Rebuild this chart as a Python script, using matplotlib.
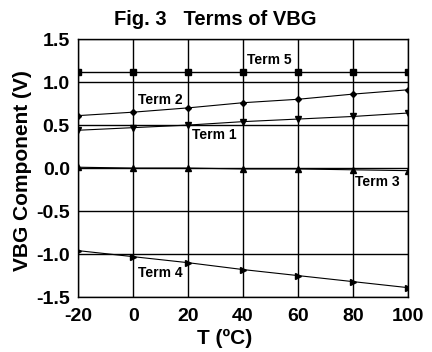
import numpy as np
import matplotlib
matplotlib.use('Agg')
import matplotlib.pyplot as plt

plt.rcParams['font.family'] = ['Liberation Sans', 'DejaVu Sans']
plt.rcParams['font.weight'] = 'bold'
plt.rcParams['axes.unicode_minus'] = False

# temperature points
T = [-20, 0, 20, 40, 60, 80, 100]

# terms of VBG
term1 = [0.44, 0.47, 0.50, 0.54, 0.57, 0.60, 0.64]
term2 = [0.61, 0.65, 0.70, 0.76, 0.80, 0.86, 0.91]
term3 = [0.01, 0.00, 0.00, -0.01, -0.01, -0.02, -0.03]
term4 = [-0.96, -1.03, -1.10, -1.18, -1.25, -1.32, -1.39]
term5 = [1.12, 1.12, 1.12, 1.12, 1.12, 1.12, 1.12]

fig = plt.figure(figsize=(4.32, 3.52), dpi=100)
ax = fig.add_axes([0.181, 0.156, 0.763, 0.733])

ax.plot(T, term5, 'k-', lw=1.0, marker='s', ms=4.5)
ax.plot(T, term2, 'k-', lw=0.8, marker='D', ms=3)
ax.plot(T, term1, 'k-', lw=0.8, marker='v', ms=4.5)
ax.plot(T, term3, 'k-', lw=0.8, marker='^', ms=4.5)
ax.plot(T, term4, 'k-', lw=0.8, marker='>', ms=4.5)

# curve labels
lab = dict(fontsize=10, fontweight='bold', va='center', ha='left')
ax.text(41.5, 1.26, 'Term 5', **lab)
ax.text(1.8, 0.79, 'Term 2', **lab)
ax.text(21.5, 0.38, 'Term 1', **lab)
ax.text(80.7, -0.16, 'Term 3', **lab)
ax.text(1.8, -1.22, 'Term 4', **lab)

ax.set_xlim(-20, 100)
ax.set_ylim(-1.5, 1.5)
ax.set_xticks(T)
ax.set_yticks([-1.5, -1.0, -0.5, 0.0, 0.5, 1.0, 1.5])
ax.set_yticklabels(['-1.5', '-1.0', '-0.5', '0.0', '0.5', '1.0', '1.5'])
ax.grid(True, color='k', lw=1.0)
ax.tick_params(axis='x', length=0, labelsize=14, pad=8)
ax.tick_params(axis='y', length=0, labelsize=14, pad=6)
for s in ax.spines.values():
    s.set_color('k')
    s.set_linewidth(1.0)

ax.set_title('Fig. 3   Terms of VBG', fontsize=14.5, fontweight='bold',
             x=0.415, pad=10)
ax.set_xlabel('T (\u00baC)', fontsize=15, fontweight='bold')
ax.xaxis.set_label_coords(0.445, -0.159)
ax.xaxis.label.set_va('center')
ax.set_ylabel('VBG Component (V)', fontsize=15, fontweight='bold')
ax.yaxis.set_label_coords(-0.17, 0.49)
ax.yaxis.label.set_va('center')

plt.savefig('out.png', dpi=100)
